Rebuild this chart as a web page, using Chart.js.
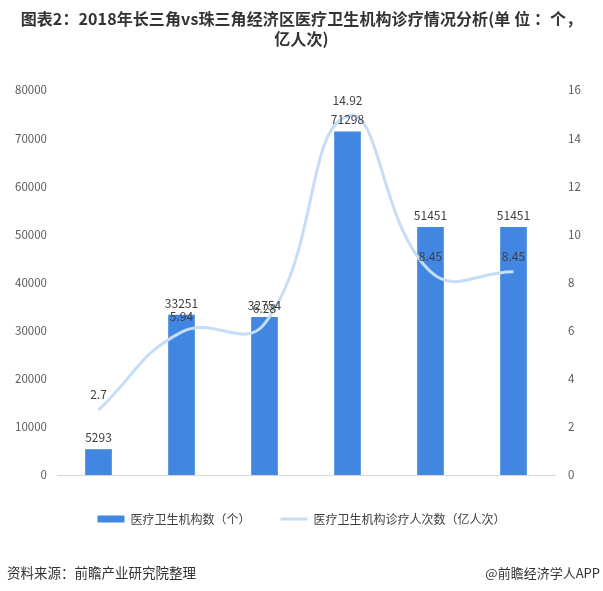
<!DOCTYPE html>
<html>
<head>
<meta charset="utf-8">
<script src="https://cdn.jsdelivr.net/npm/chart.js@4/dist/chart.umd.min.js"></script>
<style>
  html, body { margin: 0; padding: 0; background: #fff; }
  #wrap { position: relative; width: 603px; height: 591px; overflow: hidden; font-family: "Noto Sans CJK SC", sans-serif; }
  #title { position: absolute; left: 0; top: 8px; width: 603px; text-align: center; font-weight: bold; font-size: 16px; line-height: 20px; color: #333; white-space: nowrap; letter-spacing: 0.1px; }
  #src { position: absolute; left: 7px; top: 562px; font-size: 13.5px; color: #333; }
  #app { position: absolute; right: 3px; top: 563px; font-size: 13px; color: #333; }
  canvas { position: absolute; left: 0; top: 0; }
</style>
</head>
<body>
<div id="wrap">
  <canvas id="c" width="603" height="591"></canvas>
  <div id="title">图表2：2018年长三角vs珠三角经济区医疗卫生机构诊疗情况分析(单 位 ：个，<br>亿人次)</div>
  <div id="src">资料来源：前瞻产业研究院整理</div>
  <div id="app">@前瞻经济学人APP</div>
</div>
<script>
const categories = ['上海', '江苏', '浙江', '长三角', '广东', '珠三角'];
const institutions = [5293, 33251, 32754, 71298, 51451, 51451];
const visits = [2.7, 5.94, 6.28, 14.92, 8.45, 8.45];
const seriesNames = ['医疗卫生机构数（个）', '医疗卫生机构诊疗人次数（亿人次）'];
const leftMax = 80000, leftStep = 10000;
const rightMax = 16, rightStep = 2;

Chart.defaults.font.family = '"Noto Sans CJK SC", sans-serif';
Chart.defaults.color = '#595959';

const labelPlugin = {
  id: 'valueLabels',
  afterDatasetsDraw(chart) {
    const ctx = chart.ctx;
    ctx.save();
    ctx.font = '12px "Noto Sans CJK SC", sans-serif';
    ctx.fillStyle = '#404040';
    ctx.textAlign = 'center';
    ctx.textBaseline = 'middle';
    const barMeta = chart.getDatasetMeta(0);
    barMeta.data.forEach((el, i) => {
      ctx.fillText(String(institutions[i]), el.x, el.y - 12);
    });
    const lineMeta = chart.getDatasetMeta(1);
    lineMeta.data.forEach((el, i) => {
      ctx.fillText(String(visits[i]), el.x, el.y - 15.5);
    });
    ctx.restore();
  }
};

new Chart(document.getElementById('c'), {
  data: {
    labels: categories,
    datasets: [
      {
        type: 'bar',
        label: seriesNames[0],
        data: institutions,
        backgroundColor: '#4186e0',
        borderWidth: 0,
        barThickness: 26,
        yAxisID: 'y',
        order: 1,
        pointStyle: 'rect'
      },
      {
        type: 'line',
        label: seriesNames[1],
        data: visits,
        borderColor: '#c6ddf7',
        backgroundColor: '#c6ddf7',
        borderWidth: 3,
        tension: 0.45,
        pointRadius: 0,
        fill: false,
        yAxisID: 'y1',
        order: 0,
        pointStyle: 'line'
      }
    ]
  },
  options: {
    responsive: false,
    animation: false,
    layout: { padding: { top: 90, bottom: 56, left: 0, right: 0 } },
    plugins: {
      title: { display: false },
      tooltip: { enabled: false },
      legend: {
        position: 'bottom',
        labels: {
          usePointStyle: true,
          pointStyleWidth: 27,
          boxHeight: 7,
          padding: 30,
          color: '#404040',
          font: { size: 12 },
          sort: (a, b) => a.datasetIndex - b.datasetIndex
        }
      }
    },
    scales: {
      x: {
        grid: { display: false, drawTicks: false },
        border: { display: true, color: '#d9d9d9', width: 1 },
        ticks: { padding: 10, color: '#595959', font: { size: 12 } },
        afterFit(s) { s.height = 8; }
      },
      y: {
        position: 'left',
        min: 0, max: leftMax,
        grid: { display: false, drawTicks: false },
        border: { display: false },
        ticks: { stepSize: leftStep, padding: 10, color: '#595959', font: { size: 11.5 }, callback: (v) => String(v) },
        afterFit(s) { s.width = 57; }
      },
      y1: {
        position: 'right',
        min: 0, max: rightMax,
        grid: { display: false, drawTicks: false },
        border: { display: false },
        ticks: { stepSize: rightStep, padding: 13, color: '#595959', font: { size: 11.5 }, callback: (v) => String(v) },
        afterFit(s) { s.width = 48; }
      }
    }
  },
  plugins: [labelPlugin]
});
</script>
</body>
</html>
